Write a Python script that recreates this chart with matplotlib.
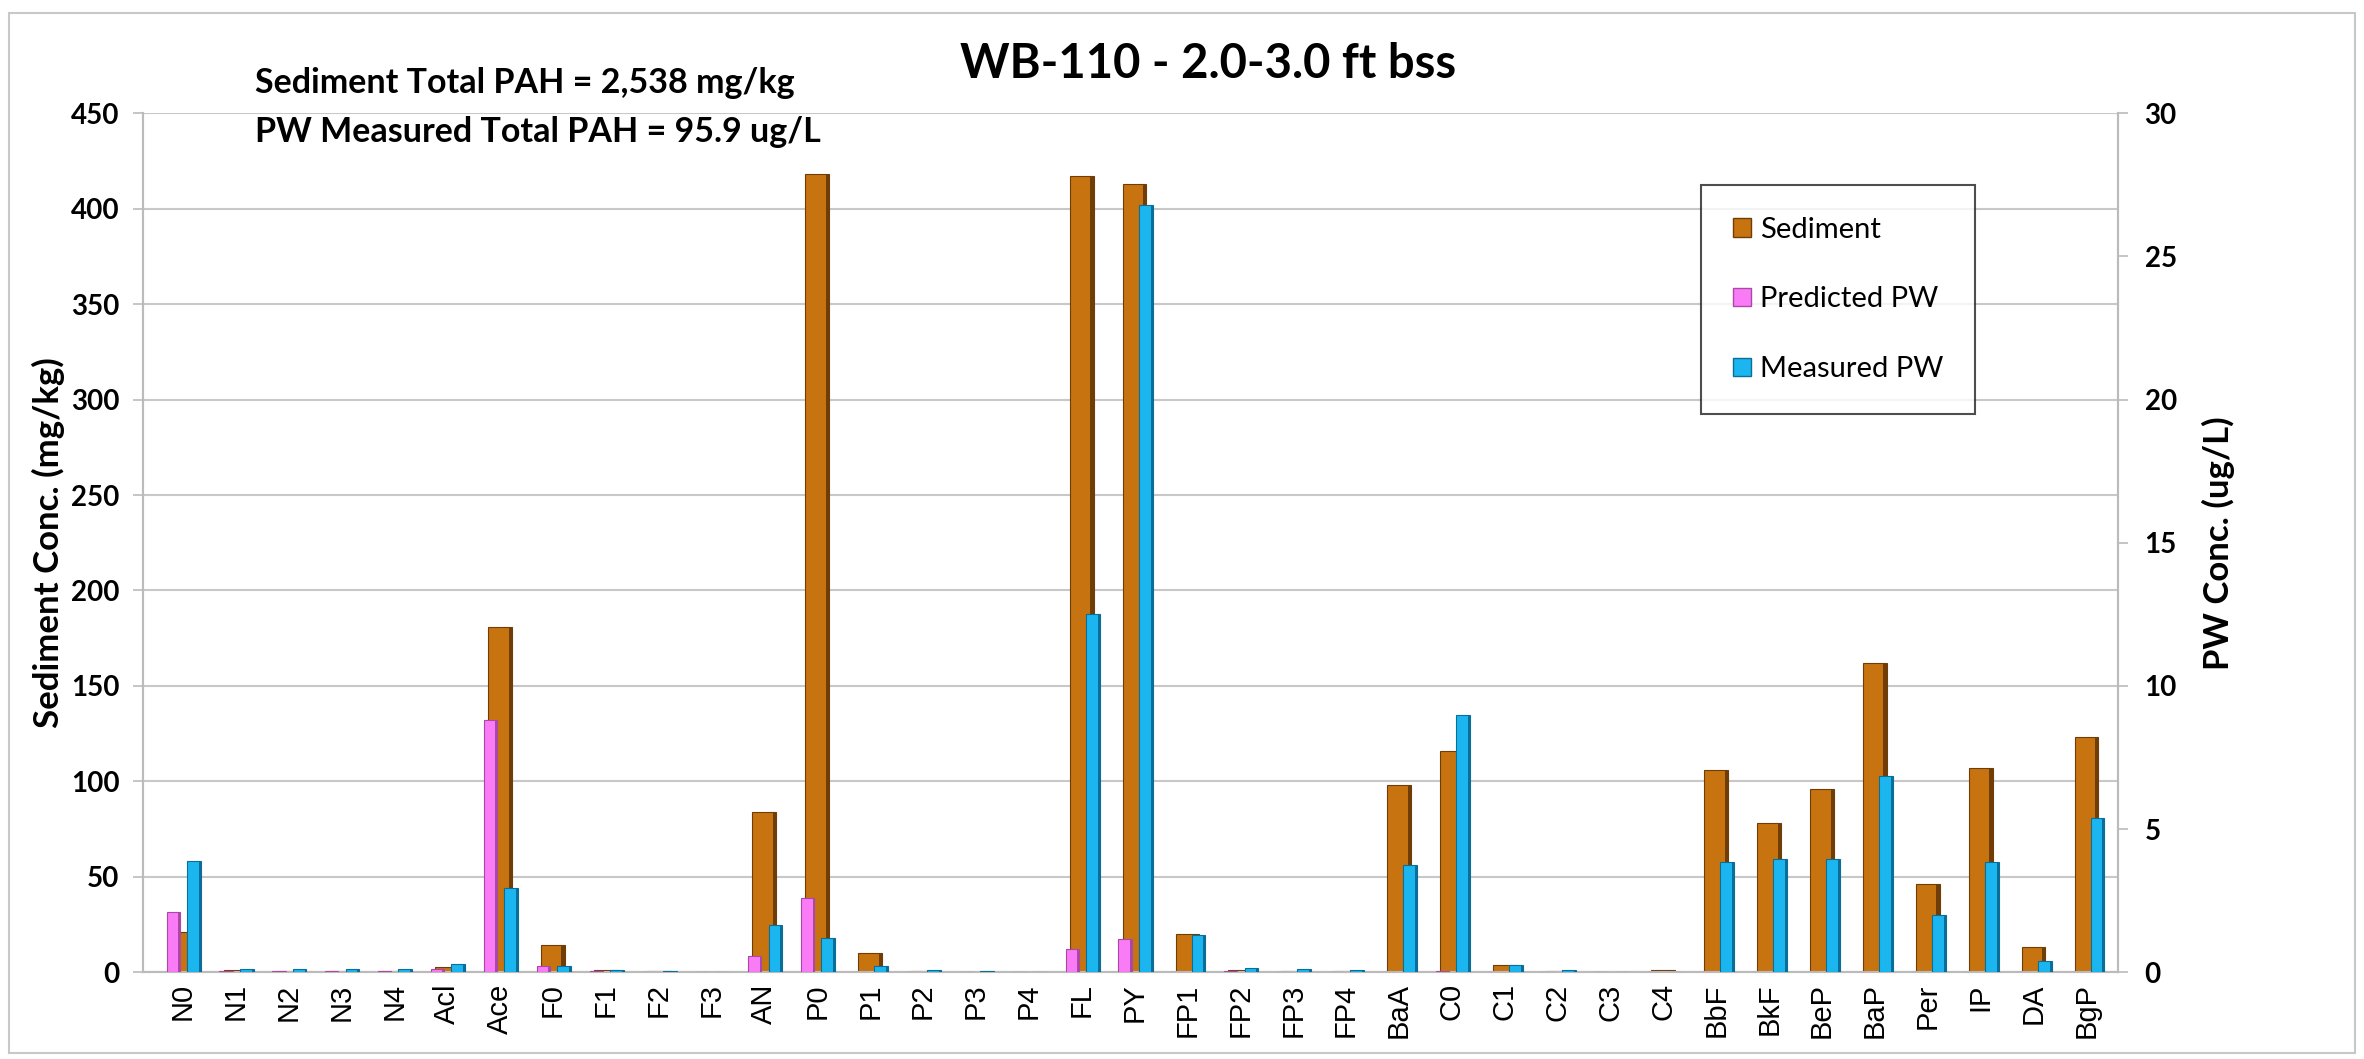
import numpy as np
import matplotlib.pyplot as plt
from matplotlib.patches import Rectangle

# categories (PAH analytes)
analytes = ["N0", "N1", "N2", "N3", "N4", "Acl", "Ace", "F0", "F1", "F2", "F3",
            "AN", "P0", "P1", "P2", "P3", "P4", "FL", "PY", "FP1", "FP2", "FP3",
            "FP4", "BaA", "C0", "C1", "C2", "C3", "C4", "BbF", "BkF", "BeP",
            "BaP", "Per", "IP", "DA", "BgP"]

# sediment concentration, mg/kg (left axis)
sediment = [21, 1.0, 0.5, 0.5, 0.5, 2.5, 181, 14, 1.0, 0.5, 0.3,
            84, 418, 10, 0.6, 0.3, 0.2, 417, 413, 20, 1.0, 0.5,
            0.5, 98, 116, 4, 0.6, 0.3, 1.0, 106, 78, 96,
            162, 46, 107, 13, 123]

# predicted porewater, ug/L (right axis)
predicted_pw = [2.1, 0.05, 0.03, 0.03, 0.03, 0.1, 8.8, 0.2, 0.03, 0.02, 0.01,
                0.55, 2.6, 0.02, 0.01, 0.0, 0.0, 0.8, 1.15, 0.02, 0.03, 0.01,
                0.01, 0.0, 0.05, 0.02, 0.01, 0.0, 0.0, 0.0, 0.0, 0.0,
                0.0, 0.0, 0.0, 0.0, 0.0]

# measured porewater, ug/L (right axis)
measured_pw = [3.9, 0.1, 0.1, 0.1, 0.1, 0.3, 2.95, 0.2, 0.08, 0.05, 0.0,
               1.65, 1.2, 0.2, 0.07, 0.05, 0.0, 12.5, 26.8, 1.3, 0.15, 0.1,
               0.07, 3.75, 9.0, 0.25, 0.08, 0.0, 0.0, 3.85, 3.95, 3.95,
               6.85, 2.0, 3.85, 0.4, 5.4]

BROWN, BROWN_D = "#C77410", "#6E3D08"
PINK, PINK_D = "#FA7BF6", "#A948A6"
CYAN, CYAN_D = "#1BB6F0", "#0B6E98"

fig = plt.figure(figsize=(23.64, 10.59), dpi=100)
fig.patch.set_facecolor("white")
fig.patches.append(Rectangle((0.004, 0.006), 0.992, 0.982, transform=fig.transFigure,
                             fill=False, edgecolor="#C8C8C8", linewidth=1.5))

ax = fig.add_axes([0.0605, 0.082, 0.8355, 0.811])
ax2 = ax.twinx()

x = np.arange(len(analytes))


def shaded_bars(axis, xpos, vals, width, color, dark, z):
    axis.bar(xpos, vals, width=width, color=color, edgecolor=dark, linewidth=0.8, zorder=z)
    # darker right side to mimic the 3-D column look
    axis.bar(xpos + width * 0.5 - width * 0.07, vals, width=width * 0.14,
             color=dark, linewidth=0, zorder=z + 0.1)


shaded_bars(ax, x, np.array(sediment), 0.45, BROWN, BROWN_D, 3)
shaded_bars(ax2, x - 0.18, np.array(predicted_pw), 0.25, PINK, PINK_D, 3)
shaded_bars(ax2, x + 0.21, np.array(measured_pw), 0.26, CYAN, CYAN_D, 3)

ax.set_xlim(-0.75, len(analytes) - 0.4)
ax.set_ylim(0, 450)
ax2.set_ylim(0, 30)
ax.set_yticks(np.arange(0, 451, 50))
ax2.set_yticks(np.arange(0, 31, 5))
ax.yaxis.grid(True, color="#C8C8C8", linewidth=1.5)
ax.set_axisbelow(True)

ax.set_xticks(x)
ax.set_xticklabels(analytes, rotation=90, fontsize=21, family="Liberation Sans")
ax.tick_params(axis="x", length=0, pad=8)
ax.tick_params(axis="y", length=7, color="#BBBBBB", width=1.2, pad=10)
ax2.tick_params(axis="y", length=7, color="#BBBBBB", width=1.2, pad=12)
for lab in ax.get_yticklabels() + ax2.get_yticklabels():
    lab.set_fontfamily("Lato")
    lab.set_fontweight("bold")
    lab.set_fontsize(20)

for a in (ax, ax2):
    a.spines["top"].set_visible(False)
    for s in ("left", "right", "bottom"):
        a.spines[s].set_color("#BBBBBB")
        a.spines[s].set_linewidth(1.5)

ax.set_ylabel("Sediment Conc. (mg/kg)", fontsize=25, fontweight="bold",
              family="Lato", labelpad=4)
ax2.set_ylabel("PW Conc. (ug/L)", fontsize=25, fontweight="bold",
               family="Lato", labelpad=18)

fig.text(0.511, 0.94, "WB-110 - 2.0-3.0 ft bss", ha="center", va="center",
         fontsize=34, fontweight="bold", family="Lato")
fig.text(0.108, 0.922, "Sediment Total PAH = 2,538 mg/kg", ha="left", va="center",
         fontsize=24.5, fontweight="bold", family="Lato")
fig.text(0.108, 0.875, "PW Measured Total PAH = 95.9 ug/L", ha="left", va="center",
         fontsize=24.5, fontweight="bold", family="Lato")

handles = [Rectangle((0, 0), 1, 1, facecolor=c, edgecolor=d, linewidth=1)
           for c, d in ((BROWN, BROWN_D), (PINK, PINK_D), (CYAN, CYAN_D))]
leg = ax.legend(handles, ["Sediment", "Predicted PW", "Measured PW"],
                loc="upper left", bbox_to_anchor=(0.789, 0.917), fancybox=False,
                frameon=True, edgecolor="#222222",
                prop={"family": "Lato", "size": 21},
                handlelength=0.6, handleheight=0.6, handletextpad=0.3,
                labelspacing=1.5, borderpad=1.1, borderaxespad=0)
leg.get_frame().set_linewidth(1.5)
leg.set_zorder(10)

fig.savefig("out.png", dpi=100, facecolor="white")
